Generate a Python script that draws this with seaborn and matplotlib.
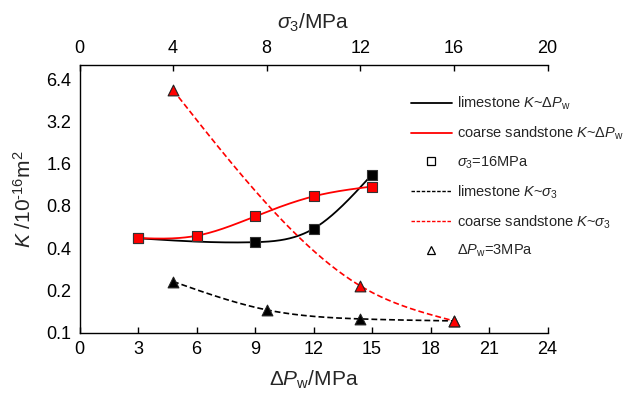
import numpy as np
import pandas as pd
import matplotlib
matplotlib.use("Agg")
import matplotlib.pyplot as plt
import seaborn as sns
from matplotlib.lines import Line2D
from matplotlib.ticker import FixedLocator, FixedFormatter, NullLocator

# ---------------- data ----------------
dpw_lime = [3, 9, 12, 15]
k_lime_dpw = [0.47, 0.441, 0.55, 1.34]
dpw_sand = [3, 6, 9, 12, 15]
k_sand_dpw = [0.472, 0.49, 0.673, 0.936, 1.10]

sig_lime = [4, 8, 12, 16]
k_lime_sig = [0.231, 0.145, 0.125, 0.121]
sig_sand = [4, 12, 16]
k_sand_sig = [5.36, 0.215, 0.121]

y_ticks = [0.1, 0.2, 0.4, 0.8, 1.6, 3.2, 6.4]
y_labels = ["0.1", "0.2", "0.4", "0.8", "1.6", "3.2", "6.4"]
x_ticks = [0, 3, 6, 9, 12, 15, 18, 21, 24]
top_ticks = [0, 4, 8, 12, 16, 20]


def natural_spline(x, y, n=200):
    """Natural cubic spline through points, in log10(y) space."""
    x = np.asarray(x, float)
    y = np.log10(np.asarray(y, float))
    m = len(x)
    h = np.diff(x)
    A = np.zeros((m, m))
    b = np.zeros(m)
    A[0, 0] = A[-1, -1] = 1.0
    for i in range(1, m - 1):
        A[i, i - 1] = h[i - 1]
        A[i, i] = 2 * (h[i - 1] + h[i])
        A[i, i + 1] = h[i]
        b[i] = 6 * ((y[i + 1] - y[i]) / h[i] - (y[i] - y[i - 1]) / h[i - 1])
    M = np.linalg.solve(A, b)
    xs = np.linspace(x[0], x[-1], n)
    ys = np.empty_like(xs)
    for j, xv in enumerate(xs):
        i = min(np.searchsorted(x, xv, side="right") - 1, m - 2)
        t1 = x[i + 1] - xv
        t0 = xv - x[i]
        ys[j] = (M[i] * t1 ** 3 / (6 * h[i]) + M[i + 1] * t0 ** 3 / (6 * h[i])
                 + (y[i] / h[i] - M[i] * h[i] / 6) * t1
                 + (y[i + 1] / h[i] - M[i + 1] * h[i] / 6) * t0)
    return pd.DataFrame({"x": xs, "K": 10 ** ys})


sns.set_style("white")
plt.rcParams["font.family"] = ["Liberation Sans", "DejaVu Sans"]
plt.rcParams["mathtext.fontset"] = "custom"
plt.rcParams["mathtext.rm"] = "Liberation Sans"
plt.rcParams["mathtext.it"] = "Liberation Sans:italic"
plt.rcParams["mathtext.sf"] = "Liberation Sans"
plt.rcParams["axes.linewidth"] = 1.0

RED = "#FF0000"
DP = r"$\mathit{ΔP}_{\mathrm{w}}$"
SIG = r"$\mathit{σ}_{3}$"
KK = r"$\mathit{K}$"

fig = plt.figure(figsize=(6.3, 3.95), dpi=100)
ax = fig.add_axes([79.5 / 630, 1 - 332.5 / 395, 468 / 630, (332.5 - 65) / 395])

# K ~ dPw curves (bottom axis)
sns.lineplot(data=natural_spline(dpw_lime, k_lime_dpw), x="x", y="K", estimator=None,
             sort=False, color="black", lw=1.3, ax=ax)
sns.lineplot(data=natural_spline(dpw_sand, k_sand_dpw), x="x", y="K", estimator=None,
             sort=False, color=RED, lw=1.3, ax=ax)
sns.scatterplot(x=dpw_lime, y=k_lime_dpw, marker="s", s=48, color="black",
                edgecolor="#333333", linewidth=0.8, ax=ax, zorder=4)
sns.scatterplot(x=dpw_sand, y=k_sand_dpw, marker="s", s=48, color=RED,
                edgecolor="#333333", linewidth=0.8, ax=ax, zorder=5)

ax.set_yscale("log", base=2)
ax.set_ylim(0.1, 8.1)
ax.set_xlim(0, 24)
ax.yaxis.set_major_locator(FixedLocator(y_ticks))
ax.yaxis.set_major_formatter(FixedFormatter(y_labels))
ax.yaxis.set_minor_locator(NullLocator())
ax.set_xticks(x_ticks)
ax.set_xticklabels([str(v) for v in x_ticks])
ax.tick_params(direction="in", length=4, width=1, labelsize=13, pad=6,
               top=False, right=False, colors="black")
ax.spines["right"].set_visible(False)
ax.spines["top"].set_visible(False)
for s in ("left", "bottom"):
    ax.spines[s].set_color("black")
ax.set_xlabel(DP + "/MPa", fontsize=15, labelpad=8)
ax.set_ylabel(KK + r" /10$^{\text{-16}}$m$^{2}$", fontsize=15, labelpad=8)

# K ~ sigma3 curves (top axis)
ax2 = ax.twiny()
sns.lineplot(data=natural_spline(sig_lime, k_lime_sig), x="x", y="K", estimator=None,
             sort=False, color="black", lw=1.2, ax=ax2, linestyle=(0, (3.5, 1.8)))
sns.lineplot(data=natural_spline(sig_sand, k_sand_sig), x="x", y="K", estimator=None,
             sort=False, color=RED, lw=1.2, ax=ax2, linestyle=(0, (3.5, 1.8)))
sns.scatterplot(x=sig_lime, y=k_lime_sig, marker="^", s=60, color="black",
                edgecolor="#222222", linewidth=0.8, ax=ax2, zorder=4)
sns.scatterplot(x=sig_sand, y=k_sand_sig, marker="^", s=60, color=RED,
                edgecolor="#222222", linewidth=0.8, ax=ax2, zorder=5)
ax2.set_xlim(0, 20)
ax2.set_xticks(top_ticks)
ax2.set_xticklabels([str(v) for v in top_ticks])
ax2.set_ylim(0.1, 8.1)
ax2.tick_params(direction="in", length=4, width=1, labelsize=13, pad=6, colors="black")
for s in ("left", "bottom", "right"):
    ax2.spines[s].set_visible(False)
ax2.spines["top"].set_color("black")
ax2.set_xlabel(SIG + "/MPa", fontsize=15, labelpad=8)
ax2.set_ylabel("")

handles = [
    Line2D([], [], color="black", lw=1.3),
    Line2D([], [], color=RED, lw=1.3),
    Line2D([], [], ls="none", marker="s", ms=6, mfc="white", mec="black", mew=0.9),
    Line2D([], [], color="black", lw=1.0, ls=(0, (2.5, 1.2))),
    Line2D([], [], color=RED, lw=1.0, ls=(0, (2.5, 1.2))),
    Line2D([], [], ls="none", marker="^", ms=6, mfc="white", mec="black", mew=0.9),
]
labels = [
    "limestone " + KK + "~" + DP,
    "coarse sandstone " + KK + "~" + DP,
    SIG + "=16MPa",
    "limestone " + KK + "~" + SIG,
    "coarse sandstone " + KK + "~" + SIG,
    DP + "=3MPa",
]
leg = ax2.legend(handles, labels, loc="upper left", bbox_to_anchor=(411 / 630, 1 - 95 / 395),
                 bbox_transform=fig.transFigure, frameon=False, fontsize=10.5,
                 handlelength=2.8, handletextpad=0.35, labelspacing=0.85,
                 borderpad=0, borderaxespad=0)

fig.savefig("out.png", dpi=100)
